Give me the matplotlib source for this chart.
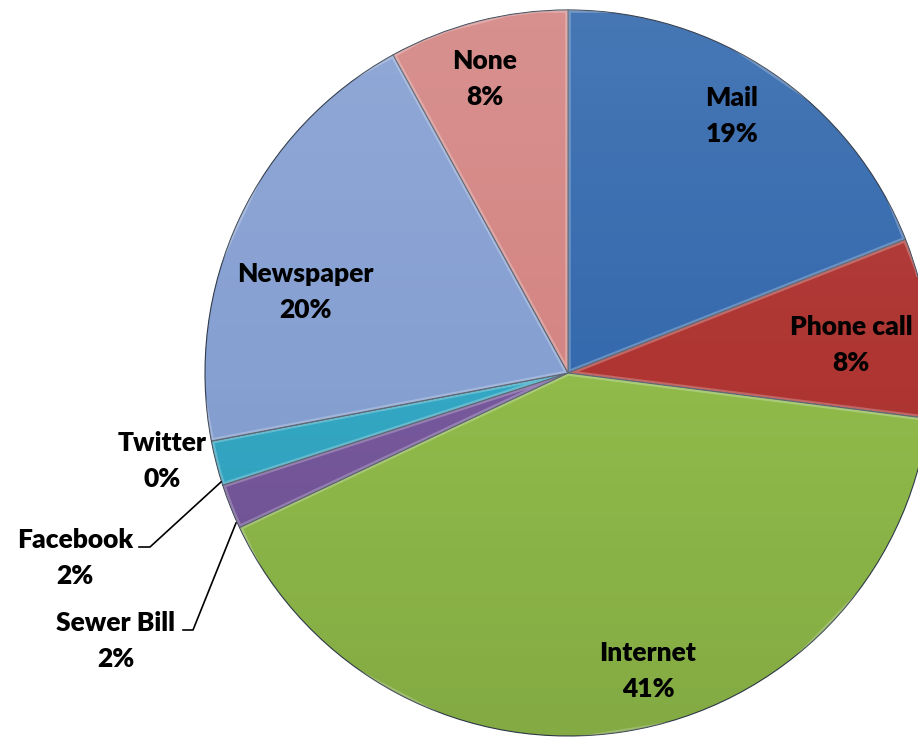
import numpy as np
import matplotlib.pyplot as plt
from matplotlib.patches import Circle

# Survey answers, clockwise from 12 o'clock
categories = ["Mail", "Phone call", "Internet", "Sewer Bill", "Facebook",
              "Twitter", "Newspaper", "None"]
shares = [19, 8, 41, 2, 2, 0, 20, 8]
slice_colors = ["#356AAE", "#AE3532", "#90BB4A", "#76589C", "#33A7C4",
                "#F79646", "#86A0D2", "#D48684"]

# label anchor points (pixels from top-left)
label_xy = {
    "Mail": (732, 116),
    "Phone call": (851, 345),
    "Internet": (648, 671),
    "Newspaper": (305, 292),
    "None": (485, 79),
    "Twitter": (162, 461),
    "Facebook": (75, 558),
    "Sewer Bill": (116, 641),
}

W, H = 918, 739
CX, CY, R = 568, H - 373, 363

plt.rcParams['font.family'] = ['Lato', 'DejaVu Sans']

fig = plt.figure(figsize=(W / 100, H / 100), dpi=100)
ax = fig.add_axes([0, 0, 1, 1])

wedges, _ = ax.pie(
    shares,
    colors=slice_colors,
    startangle=90,
    counterclock=False,
    center=(CX, CY),
    radius=R,
    wedgeprops=dict(edgecolor="#2f3a4a", linewidth=0.8),
)

# soft bevel: light rim inside each slice
for w in wedges:
    rim = plt.Polygon(w.get_path().vertices, closed=True, fill=False,
                      edgecolor="white", alpha=0.25, linewidth=4,
                      transform=w.get_transform(), zorder=w.get_zorder() + 0.1)
    ax.add_patch(rim)
    rim.set_clip_path(w)

# vertical shading over the whole pie, lighter on top
n = 256
g = np.linspace(0, 1, n)[:, None]
shade = np.zeros((n, 2, 4))
shade[..., :3] = np.where(g[..., None] < 0.5, 1.0, 0.0)
shade[..., 3] = np.abs(g - 0.5) * 0.18
im = ax.imshow(shade, extent=(CX - R, CX + R, CY - R, CY + R),
               origin="upper", aspect="auto", zorder=3, interpolation="bilinear")
im.set_clip_path(Circle((CX, CY), R, transform=ax.transData))

# value labels
for name, val in zip(categories, shares):
    x, y = label_xy[name]
    ax.text(x, H - y, f"{name}\n{val}%", ha="center", va="center",
            fontsize=19, fontweight="heavy", linespacing=1.6,
            color="black", zorder=5)

# leader lines for the thin slices
leaders = {
    "Facebook": [(139, 547), (150, 547), (221, 482)],
    "Sewer Bill": [(183, 630), (193, 630), (236, 523)],
}
for pts in leaders.values():
    xs = [p[0] for p in pts]
    ys = [H - p[1] for p in pts]
    ax.plot(xs, ys, color="black", linewidth=1.2, zorder=5)

ax.set_xlim(0, W)
ax.set_ylim(0, H)
ax.set_aspect("equal")
ax.axis("off")

fig.savefig("out.png", dpi=100)
